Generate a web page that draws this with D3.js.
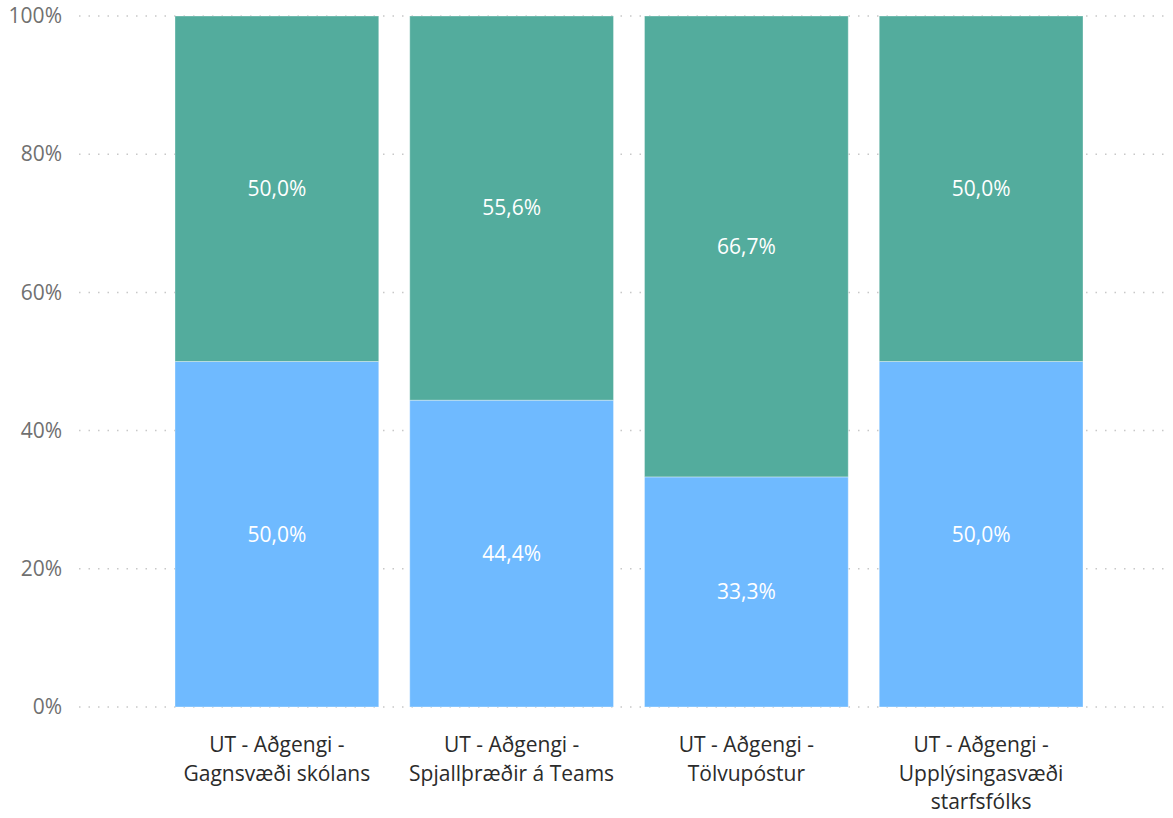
<!DOCTYPE html>
<html lang="is">
<head>
<meta charset="UTF-8">
<title>UT - Aðgengi</title>
<style>
  body { margin: 0; background: #fff; }
  svg text { font-family: "Segoe UI", "Open Sans", "Noto Sans", sans-serif; }
  .ytick { font-size: 21px; fill: #707070; }
  .xlabel { font-size: 21px; fill: #2b2b2b; }
  .dlabel { font-size: 21px; fill: #fff; }
</style>
</head>
<body>
<div id="chart"></div>
<script src="https://cdn.jsdelivr.net/npm/d3@7"></script>
<script>
// gögn
let categories = ['UT - Aðgengi - Gagnsvæði skólans', 'UT - Aðgengi - Spjallþræðir á Teams', 'UT - Aðgengi - Tölvupóstur', 'UT - Aðgengi - Upplýsingasvæði starfsfólks']
let seriesBottom = [50.0, 44.4, 33.3, 50.0]
let seriesTop = [50.0, 55.6, 66.7, 50.0]
let yTicks = [0, 20, 40, 60, 80, 100]

let width = 1173
let height = 818
let colBottom = '#6fbaff'
let colTop = '#53ac9d'

let svg = d3.select('#chart').append('svg').attr('width', width).attr('height', height)

let x = d3.scaleBand().domain(categories).range([175, 1083]).paddingInner(0.132).paddingOuter(0)
let y = d3.scaleLinear().domain([0, 100]).range([707, 16])

// bakgrunnslínur
let grid = svg.append('g')
grid.selectAll('line').data(yTicks).enter().append('line')
  .attr('x1', 79).attr('x2', 1170)
  .attr('y1', d => y(d)).attr('y2', d => y(d))
  .attr('stroke', '#c8c8c8').attr('stroke-width', 1.5)
  .attr('stroke-dasharray', '1.5,8')

// y ás
let yAxis = d3.axisLeft(y).tickValues(yTicks).tickFormat(d => d + '%').tickSize(0).tickPadding(0)
let yg = svg.append('g').attr('transform', 'translate(62,0)').call(yAxis)
yg.select('.domain').remove()
yg.selectAll('text').attr('class', 'ytick').attr('font-size', null).attr('font-family', null).attr('fill', null)

// stafla
let stack = categories.map((c, i) => [
  { cat: c, y0: 0, y1: seriesBottom[i], v: seriesBottom[i], color: colBottom },
  { cat: c, y0: seriesBottom[i], y1: seriesBottom[i] + seriesTop[i], v: seriesTop[i], color: colTop }
]).flat()

let bars = svg.append('g')
bars.selectAll('rect').data(stack).enter().append('rect')
  .attr('x', d => x(d.cat))
  .attr('width', x.bandwidth())
  .attr('y', d => y(Math.min(d.y1, 100)))
  .attr('height', d => y(d.y0) - y(Math.min(d.y1, 100)))
  .attr('fill', d => d.color)
  .attr('stroke', 'rgba(255,255,255,0.35)')
  .attr('stroke-width', 1)

bars.selectAll('text').data(stack).enter().append('text')
  .attr('class', 'dlabel')
  .attr('x', d => x(d.cat) + x.bandwidth() / 2)
  .attr('y', d => (y(d.y0) + y(Math.min(d.y1, 100))) / 2)
  .attr('text-anchor', 'middle')
  .attr('dy', '0.35em')
  .text(d => d.v.toFixed(1).replace('.', ',') + '%')

// x ás merki, brotið í línur
let maxW = x.bandwidth() + 14
let xg = svg.append('g')
categories.forEach(c => {
  let t = xg.append('text').attr('class', 'xlabel').attr('text-anchor', 'middle')
    .attr('x', x(c) + x.bandwidth() / 2).attr('y', 752)
  let words = c.split(' ')
  let lines = []
  let line = []
  let tmp = xg.append('text').attr('class', 'xlabel')
  words.forEach(w => {
    let test = line.concat([w]).join(' ')
    tmp.text(test)
    if (tmp.node().getComputedTextLength() > maxW && line.length) {
      lines.push(line.join(' '))
      line = [w]
    } else {
      line.push(w)
    }
  })
  lines.push(line.join(' '))
  tmp.remove()
  lines.forEach((l, i) => {
    t.append('tspan').attr('x', x(c) + x.bandwidth() / 2).attr('dy', i === 0 ? 0 : 28.5).text(l)
  })
})
</script>
</body>
</html>
